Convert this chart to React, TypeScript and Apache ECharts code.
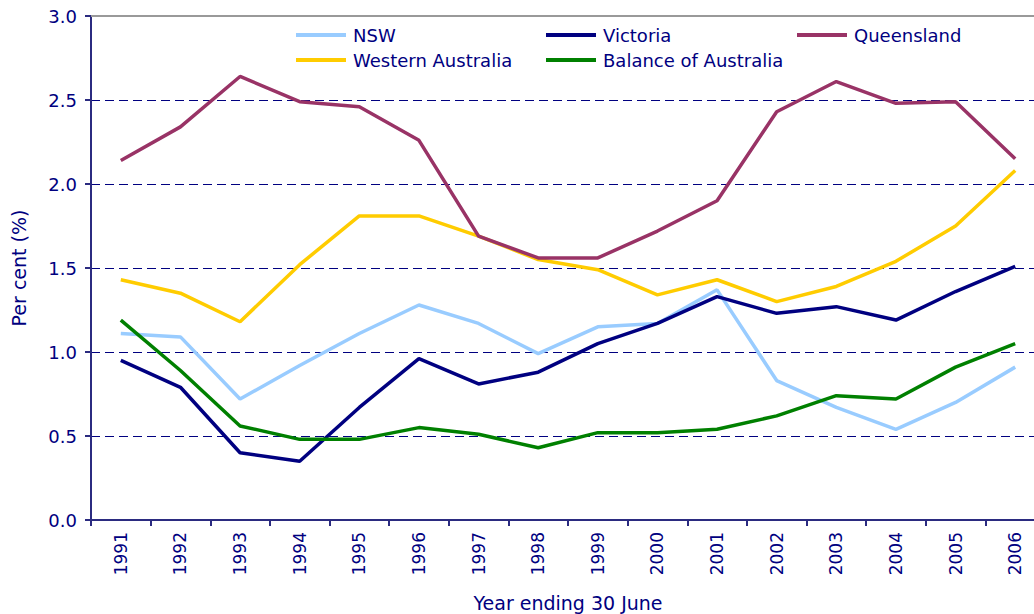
import React, { useEffect, useRef } from "react";
import * as echarts from "echarts";

const years = ["1991","1992","1993","1994","1995","1996","1997","1998","1999","2000","2001","2002","2003","2004","2005","2006"];
const nsw = [1.11, 1.09, 0.72, 0.92, 1.11, 1.28, 1.17, 0.99, 1.15, 1.17, 1.37, 0.83, 0.67, 0.54, 0.70, 0.91];
const victoria = [0.95, 0.79, 0.40, 0.35, 0.67, 0.96, 0.81, 0.88, 1.05, 1.17, 1.33, 1.23, 1.27, 1.19, 1.36, 1.51];
const queensland = [2.14, 2.34, 2.64, 2.49, 2.46, 2.26, 1.69, 1.56, 1.56, 1.72, 1.90, 2.43, 2.61, 2.48, 2.49, 2.15];
const westernAustralia = [1.43, 1.35, 1.18, 1.52, 1.81, 1.81, 1.69, 1.55, 1.49, 1.34, 1.43, 1.30, 1.39, 1.54, 1.75, 2.08];
const balance = [1.19, 0.89, 0.56, 0.48, 0.48, 0.55, 0.51, 0.43, 0.52, 0.52, 0.54, 0.62, 0.74, 0.72, 0.91, 1.05];
const yTicks = { min: 0, max: 3, interval: 0.5 };

const NAVY = "#000080";
const FONT = "DejaVu Sans";

export default function App() {
  const ref = useRef<HTMLDivElement>(null);
  useEffect(() => {
    if (!ref.current) return;
    const chart = echarts.init(ref.current, null, { renderer: "svg" });
    const mk = (name: string, data: number[], color: string, extra: any = {}) => ({
      name,
      type: "line",
      data,
      symbol: "none",
      lineStyle: { color, width: 3.5 },
      itemStyle: { color },
      ...extra,
    });
    const legendBase = {
      icon: "rect",
      itemWidth: 50,
      itemHeight: 4,
      itemGap: 0,
      padding: 0,
      textStyle: { color: NAVY, fontFamily: FONT, fontSize: 18, padding: [0, 0, 0, 2] },
    };
    chart.setOption({
      animation: false,
      backgroundColor: "#ffffff",
      textStyle: { fontFamily: FONT },
      legend: [
        { ...legendBase, data: ["NSW"], left: 296, top: 26 },
        { ...legendBase, data: ["Victoria"], left: 546, top: 26 },
        { ...legendBase, data: ["Queensland"], left: 797, top: 26 },
        { ...legendBase, data: ["Western Australia"], left: 296, top: 51 },
        { ...legendBase, data: ["Balance of Australia"], left: 546, top: 51 },
      ],
      grid: { left: 91, right: -11, top: 16, bottom: 94, containLabel: false, outerBoundsMode: "none" },
      xAxis: {
        type: "category",
        data: years,
        boundaryGap: true,
        name: "Year ending 30 June",
        nameLocation: "middle",
        nameGap: 73,
        nameTextStyle: { color: NAVY, fontFamily: FONT, fontSize: 19 },
        axisLine: { lineStyle: { color: "#2b2b80", width: 2 } },
        axisTick: { show: true, length: 6, alignWithLabel: false, lineStyle: { color: "#2b2b80", width: 2 } },
        axisLabel: { rotate: 90, color: NAVY, fontFamily: FONT, fontSize: 17, margin: 12, interval: 0 },
        splitLine: { show: false },
      },
      yAxis: {
        type: "value",
        min: yTicks.min,
        max: yTicks.max,
        interval: yTicks.interval,
        name: "Per cent (%)",
        nameLocation: "middle",
        nameGap: 63,
        nameTextStyle: { color: NAVY, fontFamily: FONT, fontSize: 19 },
        axisLine: { show: true, lineStyle: { color: "#2b2b80", width: 2 } },
        axisTick: { show: true, length: 6, lineStyle: { color: "#2b2b80", width: 2 } },
        axisLabel: {
          color: NAVY,
          fontFamily: FONT,
          fontSize: 18,
          margin: 14,
          formatter: (v: number) => v.toFixed(1),
        },
        splitLine: { show: true, lineStyle: { color: NAVY, width: 1, type: [9, 5] } },
      },
      series: [
        mk("NSW", nsw, "#99CCFF"),
        mk("Victoria", victoria, "#000080"),
        mk("Western Australia", westernAustralia, "#FFCC00"),
        mk("Queensland", queensland, "#993366", {
          markLine: {
            silent: true,
            symbol: "none",
            label: { show: false },
            lineStyle: { color: "#999999", width: 2, type: "solid" },
            data: [{ yAxis: 3 }],
          },
        }),
        mk("Balance of Australia", balance, "#008000"),
      ],
    });
    return () => chart.dispose();
  }, []);
  return (
    <div
      ref={ref}
      style={{ position: "absolute", left: 0, top: 0, width: 1034, height: 614 }}
    />
  );
}
